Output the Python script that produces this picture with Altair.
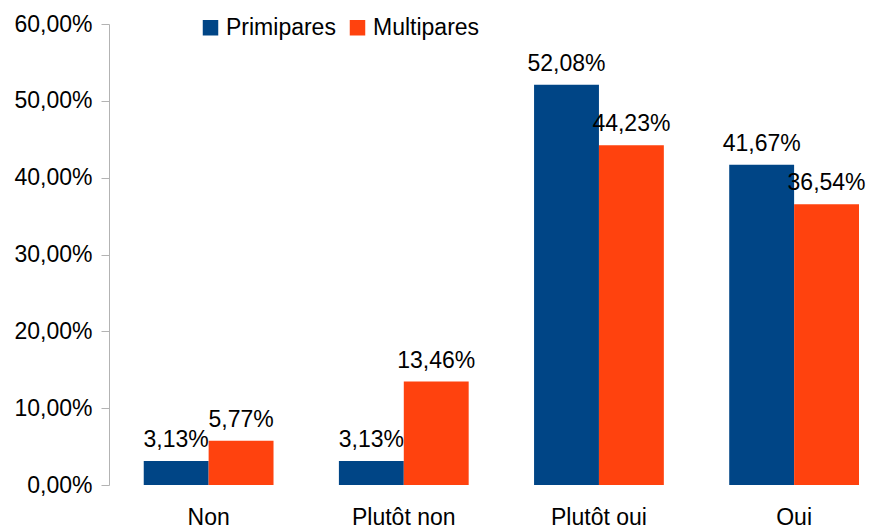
import altair as alt
import pandas as pd

categories = ["Non", "Plutôt non", "Plutôt oui", "Oui"]
series = ["Primipares", "Multipares"]
primipares = [3.13, 3.13, 52.08, 41.67]
multipares = [5.77, 13.46, 44.23, 36.54]
colors = ["#004586", "#ff420e"]
y_ticks = [0, 10, 20, 30, 40, 50, 60]

rows = []
for c, p, m in zip(categories, primipares, multipares):
    rows.append({"cat": c, "serie": "Primipares", "value": p})
    rows.append({"cat": c, "serie": "Multipares", "value": m})
df = pd.DataFrame(rows)

FONT = "Liberation Sans"
FS = 23

x = alt.X("cat:N", sort=categories, title=None,
          scale=alt.Scale(domain=categories, paddingInner=0.335, paddingOuter=0.089, align=1),
          axis=alt.Axis(labelAngle=0, domain=False, ticks=False, grid=False, labelPadding=21,
                        labelFontSize=FS, labelFont=FONT, labelColor="#000000"))
xo = alt.XOffset("serie:N", sort=series, scale=alt.Scale(domain=series, paddingInner=0, paddingOuter=0))
y = alt.Y("value:Q", title=None,
          scale=alt.Scale(domain=[0, 60], nice=False),
          axis=alt.Axis(values=y_ticks, grid=False, domainColor="#b3b3b3", tickColor="#b3b3b3",
                        tickSize=8, labelPadding=9, labelFontSize=FS, labelFont=FONT,
                        labelColor="#000000",
                        labelExpr="replace(format(datum.value, '.2f'), '.', ',') + '%'"))

bars = alt.Chart(df).mark_bar().encode(
    x=x, xOffset=xo, y=y,
    color=alt.Color("serie:N", sort=series,
                    scale=alt.Scale(domain=series, range=colors),
                    legend=alt.Legend(title=None, orient="none", direction="horizontal",
                                      legendX=90, legendY=-8, symbolType="square",
                                      symbolSize=240, symbolStrokeWidth=0, labelFontSize=FS,
                                      labelFont=FONT, labelColor="#000000", labelOffset=4,
                                      columnPadding=10, padding=0, symbolOpacity=1)),
)

labels = alt.Chart(df).transform_calculate(
    lbl="replace(format(datum.value, '.2f'), '.', ',') + '%'"
).mark_text(baseline="alphabetic", dy=-14, fontSize=FS, font=FONT, color="#000000").encode(
    x=x, xOffset=xo, y=y, text="lbl:N"
)

chart = alt.layer(bars, labels).properties(
    width=750, height=461,
    autosize=alt.AutoSizeParams(type="none"),
    padding={"left": 101, "top": 16, "right": 7, "bottom": 46},
).configure(font=FONT).configure_view(stroke=None)

chart.save("out.html", embed_options={"renderer": "svg", "actions": False})
